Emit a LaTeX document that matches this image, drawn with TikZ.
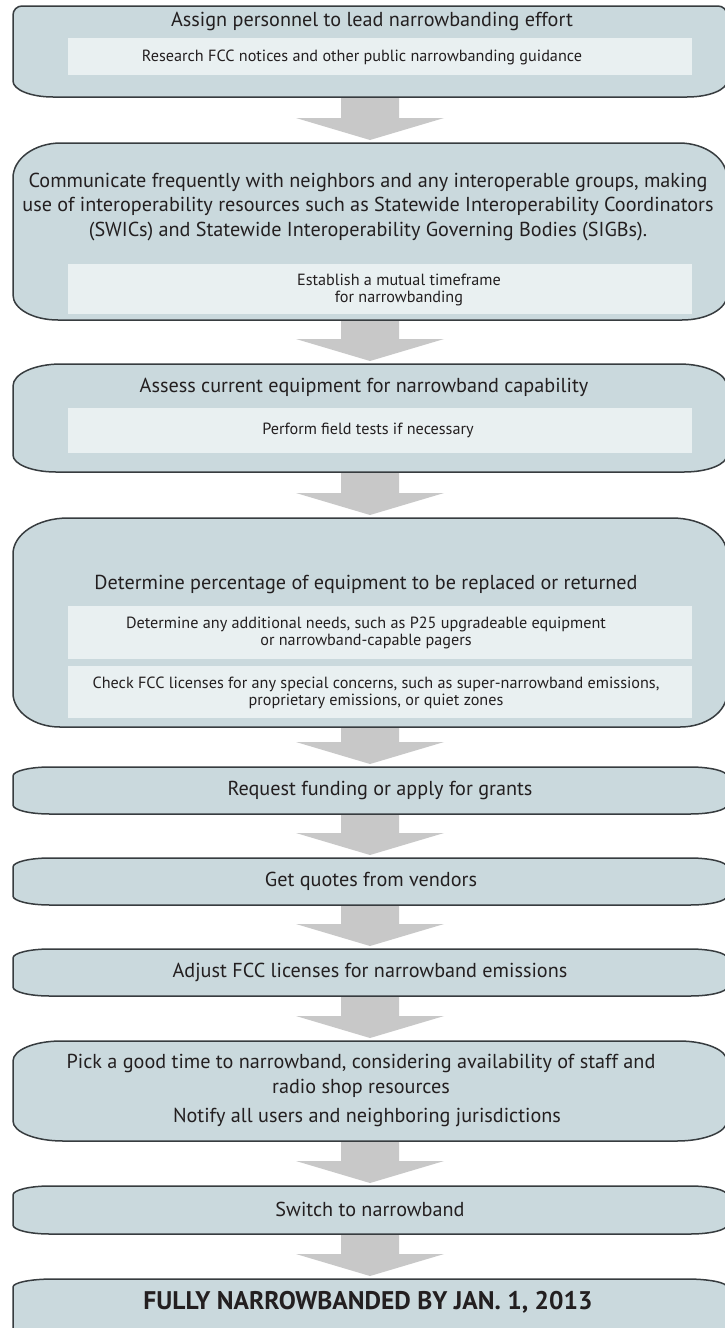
\documentclass[tikz,border=0pt]{standalone}
\usepackage{fontspec}
\setmainfont{PT Sans}
\usetikzlibrary{calc}
\definecolor{boxfill}{RGB}{202,217,221}
\definecolor{innerfill}{RGB}{233,240,241}
\definecolor{boxline}{RGB}{55,60,63}
\definecolor{arrowgray}{RGB}{200,200,200}
\definecolor{txtcol}{RGB}{35,31,32}
\tikzset{
  boxnode/.style={inner sep=0pt, outer sep=0pt, minimum width=714pt, draw=none},
  boxshape/.style={fill=boxfill, draw=boxline, line width=1.5pt},
  innerbox/.style={fill=innerfill, draw=none, inner sep=0pt, minimum width=624pt},
  maintext/.style={text=txtcol, font=\fontsize{20.2}{24.5}\selectfont, align=center, inner sep=0pt},
  subtext/.style={text=txtcol, font=\fontsize{16.2}{17.5}\selectfont, align=center, inner sep=0pt},
  bigarrow/.style={fill=arrowgray, draw=none},
}
% name, top, bottom, rx top, ry top, rx bottom, ry bottom
\newcommand\flowbox[7]{%
  \node[boxnode, minimum height={#3-#2}, anchor=north] (#1) at (370,#2) {};
  \filldraw[boxshape] let \p1=(#1.north west), \p2=(#1.south east) in
    ({\x1},{\y1-#5pt}) .. controls ({\x1},{\y1-0.4477*#5pt}) and ({\x1+0.4477*#4pt},{\y1}) .. ({\x1+#4pt},{\y1})
    -- ({\x2-#4pt},{\y1}) .. controls ({\x2-0.4477*#4pt},{\y1}) and ({\x2},{\y1-0.4477*#5pt}) .. ({\x2},{\y1-#5pt})
    -- ({\x2},{\y2+#7pt}) .. controls ({\x2},{\y2+0.4477*#7pt}) and ({\x2-0.4477*#6pt},{\y2}) .. ({\x2-#6pt},{\y2})
    -- ({\x1+#6pt},{\y2}) .. controls ({\x1+0.4477*#6pt},{\y2}) and ({\x1},{\y2+0.4477*#7pt}) .. ({\x1},{\y2+#7pt})
    -- cycle;
}
\newcommand\flowarrow[2]{%
  \fill[bigarrow] let \p1=(#1.south), \p2=(#2.north) in
    ({\x1-29pt},{\y1-1pt}) -- ({\x1+29pt},{\y1-1pt}) -- ({\x1+29pt},{\y2+25pt})
    -- ({\x1+74pt},{\y2+25pt}) -- ({\x1},{\y2+3pt}) -- ({\x1-74pt},{\y2+25pt})
    -- ({\x1-29pt},{\y2+25pt}) -- cycle;
}
\begin{document}
\begin{tikzpicture}[x=1pt,y=-1pt]
\useasboundingbox (0,0) rectangle (725,1328);
\fill[white] (0,0) rectangle (725,1328);

% boxes
\flowbox{b1}{6}{97}{9}{9}{40}{16}
\flowbox{b2}{143}{320}{48}{35}{45}{25}
\flowbox{b3}{364}{472}{48}{22}{43}{17}
\flowbox{b4}{518}{727}{55}{36}{47}{34}
\flowbox{b5}{767}{814}{37}{9}{37}{9}
\flowbox{b6}{858}{905}{37}{9}{37}{9}
\flowbox{b7}{949}{996}{37}{9}{37}{9}
\flowbox{b8}{1041}{1141}{48}{20}{50}{20}
\flowbox{b9}{1186}{1234}{37}{9}{37}{9}
\flowbox{b10}{1279}{1370}{40}{8}{40}{8}

% arrows
\flowarrow{b1}{b2}
\flowarrow{b2}{b3}
\flowarrow{b3}{b4}
\flowarrow{b4}{b5}
\flowarrow{b5}{b6}
\flowarrow{b6}{b7}
\flowarrow{b7}{b8}
\flowarrow{b8}{b9}
\flowarrow{b9}{b10}

% inner boxes
\node[innerbox, minimum height=37] (i1) at (380,56.5) {};
\node[innerbox, minimum height=50] (i2) at (380,289) {};
\node[innerbox, minimum height=45] (i3) at (380,430) {};
\node[innerbox, minimum height=53] (i4a) at (380,632) {};
\node[innerbox, minimum height=52] (i4b) at (380,692) {};

% texts
\node[maintext] (t1) at (372,21) {Assign personnel to lead narrowbanding effort};
\node[subtext] (s1) at (362,57) {Research FCC notices and other public narrowbanding guidance};
\node[maintext] (t2) at (368,207) {Communicate frequently with neighbors and any interoperable groups, making\\use of interoperability resources such as Statewide Interoperability Coordinators\\(SWICs) and Statewide Interoperability Governing Bodies (SIGBs).};
\node[subtext] (s2) at (399,290) {Establish a mutual timeframe\\for narrowbanding};
\node[maintext] (t3) at (364,387) {Assess current equipment for narrowband capability};
\node[subtext] (s3) at (368,430) {Perform field tests if necessary};
\node[maintext] (t4) at (366,584) {Determine percentage of equipment to be replaced or returned};
\node[subtext] (s4a) at (366,633) {Determine any additional needs, such as P25 upgradeable equipment\\or narrowband-capable pagers};
\node[subtext] (s4b) at (376,693) {Check FCC licenses for any special concerns, such as super-narrowband emissions,\\proprietary emissions, or quiet zones};
\node[maintext] (t5) at (380,790) {Request funding or apply for grants};
\node[maintext] (t6) at (371,881) {Get quotes from vendors};
\node[maintext] (t7) at (370,972) {Adjust FCC licenses for narrowband emissions};
\node[maintext] (t8) at (361,1076) {Pick a good time to narrowband, considering availability of staff and\\radio shop resources};
\node[maintext] (t8b) at (367,1117) {Notify all users and neighboring jurisdictions};
\node[maintext] (t9) at (370,1209) {Switch to narrowband};
\node[maintext, font=\fontsize{25.5}{29}\selectfont\bfseries] (t10) at (368,1302) {FULLY NARROWBANDED BY JAN. 1, 2013};
\end{tikzpicture}
\end{document}
